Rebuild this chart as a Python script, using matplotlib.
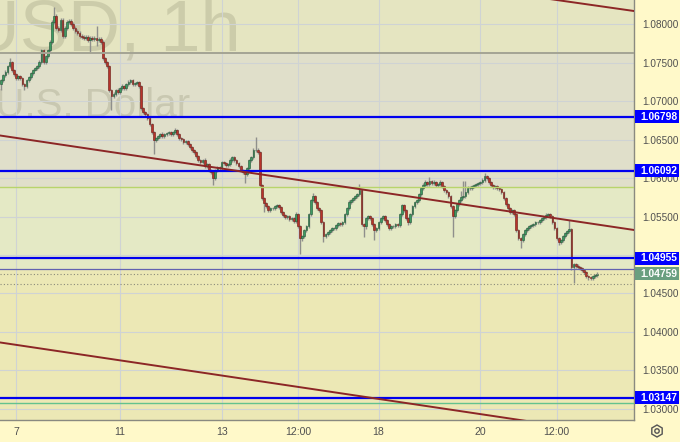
import numpy as np
import matplotlib.pyplot as plt
from matplotlib.patches import Rectangle, RegularPolygon, Circle

plt.rcParams['font.family'] = ['Liberation Sans', 'DejaVu Sans']

# EURUSD 1h, bar index 0 = 7th 00:00
first_open = 1.07220
closes = [
    1.07272, 1.07337, 1.07376, 1.07454, 1.07506, 1.07402, 1.07350, 1.07298, 1.07324, 1.07298,
    1.07220, 1.07194, 1.07272, 1.07311, 1.07363, 1.07402, 1.07428, 1.07454, 1.07506, 1.07662,
    1.07506, 1.07584, 1.07662, 1.07766, 1.08026, 1.08104, 1.07948, 1.07922, 1.08052, 1.07844,
    1.07948, 1.08026, 1.08039, 1.08000, 1.07948, 1.07909, 1.07883, 1.07844, 1.07831, 1.07818,
    1.07831, 1.07792, 1.07818, 1.07805, 1.07818, 1.07792, 1.07805, 1.07766, 1.07558, 1.07506,
    1.07454, 1.07142, 1.07064, 1.07090, 1.07142, 1.07116, 1.07168, 1.07194, 1.07168, 1.07220,
    1.07246, 1.07272, 1.07220, 1.07233, 1.07246, 1.07194, 1.06908, 1.06856, 1.06830, 1.06778,
    1.06700, 1.06596, 1.06492, 1.06518, 1.06544, 1.06570, 1.06544, 1.06570, 1.06583, 1.06596,
    1.06570, 1.06596, 1.06622, 1.06570, 1.06518, 1.06505, 1.06466, 1.06479, 1.06440, 1.06401,
    1.06362, 1.06336, 1.06284, 1.06232, 1.06206, 1.06232, 1.06154, 1.06180, 1.06102, 1.06076,
    1.05998, 1.06102, 1.06141, 1.06128, 1.06206, 1.06193, 1.06167, 1.06180, 1.06232, 1.06271,
    1.06232, 1.06193, 1.06154, 1.06102, 1.06076, 1.06050, 1.06128, 1.06232, 1.06271, 1.06362,
    1.06362, 1.06336, 1.05907, 1.05738, 1.05673, 1.05634, 1.05582, 1.05608, 1.05608, 1.05634,
    1.05647, 1.05621, 1.05556, 1.05517, 1.05491, 1.05504, 1.05465, 1.05478, 1.05439, 1.05530,
    1.05374, 1.05218, 1.05244, 1.05322, 1.05374, 1.05530, 1.05712, 1.05764, 1.05686, 1.05608,
    1.05582, 1.05426, 1.05244, 1.05270, 1.05296, 1.05322, 1.05348, 1.05348, 1.05387, 1.05413,
    1.05400, 1.05426, 1.05530, 1.05608, 1.05686, 1.05712, 1.05738, 1.05764, 1.05790, 1.05842,
    1.05400, 1.05374, 1.05478, 1.05504, 1.05478, 1.05400, 1.05322, 1.05348, 1.05426, 1.05478,
    1.05504, 1.05452, 1.05400, 1.05348, 1.05374, 1.05374, 1.05400, 1.05387, 1.05530, 1.05647,
    1.05582, 1.05478, 1.05426, 1.05530, 1.05634, 1.05686, 1.05712, 1.05790, 1.05868, 1.05907,
    1.05946, 1.05920, 1.05959, 1.05933, 1.05946, 1.05907, 1.05920, 1.05946, 1.05894, 1.05842,
    1.05816, 1.05764, 1.05634, 1.05504, 1.05582, 1.05660, 1.05712, 1.05751, 1.05764, 1.05816,
    1.05868, 1.05868, 1.05894, 1.05907, 1.05920, 1.05933, 1.05946, 1.05972, 1.06024, 1.05998,
    1.05946, 1.05907, 1.05881, 1.05894, 1.05868, 1.05855, 1.05816, 1.05738, 1.05660, 1.05608,
    1.05556, 1.05582, 1.05530, 1.05322, 1.05218, 1.05192, 1.05270, 1.05322, 1.05348, 1.05374,
    1.05387, 1.05400, 1.05426, 1.05426, 1.05452, 1.05478, 1.05491, 1.05517, 1.05530, 1.05504,
    1.05426, 1.05348, 1.05218, 1.05166, 1.05192, 1.05244, 1.05283, 1.05309, 1.05335, 1.04841,
    1.04880, 1.04854, 1.04841, 1.04828, 1.04802, 1.04776, 1.04724, 1.04711, 1.04698, 1.04724,
    1.04737, 1.04759,
]
# wick lengths above / below the body, in pips
wick_up = [
    2, 2, 3, 2, 5, 2, 2, 2, 2, 1,  2, 1, 2, 2, 2, 1, 2, 2, 3, 2,
    2, 2, 2, 2, 3, 12, 2, 2, 3, 2,  2, 2, 3, 2, 2, 2, 2, 2, 2, 2,
    2, 3, 2, 3, 2, 16, 2, 3, 2, 2,  2, 2, 2, 3, 2, 3, 2, 3, 2, 2,
    3, 2, 2, 2, 2, 2, 2, 2, 2, 2,  2, 2, 2, 2, 2, 2, 3, 2, 2, 2,
    2, 2, 3, 2, 2, 2, 2, 2, 2, 2,  2, 2, 2, 2, 2, 2, 3, 2, 2, 2,
    2, 2, 2, 2, 2, 2, 2, 2, 3, 2,  2, 2, 2, 2, 2, 2, 2, 2, 2, 3,
    17, 3, 2, 2, 2, 2, 2, 2, 2, 2,  2, 2, 2, 2, 2, 2, 2, 2, 2, 3,
    2, 2, 2, 2, 2, 2, 2, 4, 2, 2,  2, 2, 2, 2, 2, 2, 2, 2, 2, 2,
    2, 2, 2, 2, 3, 2, 2, 2, 2, 8,  2, 2, 2, 2, 2, 2, 2, 2, 2, 2,
    2, 2, 2, 2, 2, 2, 2, 2, 2, 2,  2, 2, 2, 2, 2, 2, 2, 2, 2, 3,
    3, 2, 5, 2, 3, 2, 2, 3, 2, 2,  2, 2, 2, 2, 2, 2, 2, 8, 20, 15,
    3, 3, 2, 2, 2, 2, 2, 3, 4, 2,  2, 2, 2, 2, 2, 2, 2, 2, 2, 2,
    2, 2, 2, 2, 2, 2, 2, 2, 2, 2,  2, 2, 2, 2, 2, 2, 2, 3, 2, 2,
    2, 2, 2, 2, 2, 2, 2, 2, 12, 2,  2, 2, 3, 2, 2, 2, 2, 2, 2, 2,
    2, 2,
]
wick_dn = [
    8, 2, 2, 2, 2, 2, 2, 3, 2, 2,  3, 5, 2, 2, 2, 2, 1, 2, 2, 2,
    2, 2, 2, 2, 2, 2, 3, 2, 2, 3,  2, 2, 2, 2, 2, 2, 2, 2, 2, 3,
    3, 3, 17, 3, 2, 8, 2, 2, 3, 2,  2, 3, 18, 2, 2, 2, 2, 2, 2, 2,
    2, 2, 2, 2, 2, 2, 2, 2, 2, 2,  2, 3, 18, 2, 2, 2, 2, 2, 2, 2,
    2, 2, 2, 2, 2, 2, 2, 2, 2, 2,  2, 2, 2, 3, 2, 2, 2, 3, 2, 2,
    9, 2, 2, 2, 2, 2, 2, 2, 2, 2,  2, 2, 2, 2, 3, 12, 2, 2, 2, 2,
    2, 2, 3, 3, 12, 2, 2, 2, 2, 2,  2, 2, 2, 2, 2, 2, 2, 2, 2, 2,
    2, 20, 3, 2, 2, 2, 2, 2, 2, 2,  2, 2, 8, 2, 2, 2, 2, 2, 2, 2,
    2, 2, 2, 2, 2, 2, 2, 2, 2, 2,  2, 14, 4, 2, 2, 2, 13, 2, 2, 2,
    2, 2, 2, 2, 2, 2, 2, 2, 2, 2,  2, 2, 3, 2, 2, 2, 2, 2, 2, 2,
    2, 2, 2, 2, 2, 2, 2, 2, 2, 2,  2, 2, 2, 27, 2, 2, 2, 2, 2, 2,
    2, 2, 2, 2, 2, 2, 2, 2, 2, 2,  2, 2, 2, 2, 2, 2, 2, 2, 2, 2,
    2, 2, 2, 2, 2, 10, 2, 2, 2, 2,  2, 2, 2, 2, 2, 2, 2, 2, 2, 2,
    2, 2, 2, 3, 2, 2, 2, 2, 2, 3,  21, 2, 2, 2, 2, 2, 2, 3, 2, 2,
    2, 2,
]
first_bar = -7

tick_pos = [0, 49, 97, 133, 171, 219, 255]
tick_labels = ['7', '11', '13', '12:00', '18', '20', '12:00']
price_ticks = [1.030, 1.035, 1.040, 1.045, 1.055, 1.060, 1.065, 1.070, 1.075, 1.080]

blue_levels = [1.06798, 1.06092, 1.04955, 1.03147]
last_price = 1.04759
day_low = 1.04617
gray_level = 1.07623
lime_level = 1.05883
purple_level = 1.04820
green_level = 1.03078
trend_lines = [
    ((-7.5, 1.06552), (291.5, 1.05325)),
    ((-7.5, 1.03864), (291.5, 1.02636)),
    ((200.0, 1.08528), (291.5, 1.08169)),
]

# ---- figure
fig = plt.figure(figsize=(6.8, 4.42), dpi=100, facecolor='#fff9c9')
ax = fig.add_axes([0, 22 / 442, 634 / 680, 420 / 442])
ax.set_facecolor('#e5e5c1')
ax.set_xlim(-7.55, 291.5)
ax.set_ylim(1.02857, 1.08312)

# background zones
ax.axhspan(lime_level, gray_level, color='#e0dfca', zorder=0.5, lw=0)
ax.axhspan(purple_level, lime_level, color='#e4e9c5', zorder=0.5, lw=0)
ax.axhspan(1.0, purple_level, color='#ece8b5', zorder=0.5, lw=0)

# watermark
ax.text(241 / 634, 370 / 420, 'EURUSD, 1h', transform=ax.transAxes, ha='right',
        va='baseline', fontsize=52, color='#8c8c6e', alpha=0.27, zorder=1)
ax.text(190 / 634, 303 / 420, 'Euro / U.S. Dollar', transform=ax.transAxes, ha='right',
        va='baseline', fontsize=29, color='#8c8c6e', alpha=0.27, zorder=1)

# candles
c = np.array(closes)
o = np.concatenate([[first_open], c[:-1]])
x = np.arange(len(c)) + first_bar
hi = np.maximum(o, c) + np.array(wick_up) * 1e-4
lo = np.minimum(o, c) - np.array(wick_dn) * 1e-4
up = c >= o
ax.vlines(x, lo, hi, color='#8f8f8c', lw=1.0, zorder=3)
body = np.maximum(np.abs(c - o), 0.00006)
ax.bar(x, body, bottom=np.minimum(o, c), width=0.8,
       color=np.where(up, '#3d9a62', '#b8332b'),
       edgecolor=np.where(up, '#1f5535', '#6b1a14'), lw=0.4, zorder=4)

# drawings
ax.axhline(gray_level, color='#a4a494', lw=1.4, zorder=5)
ax.axhline(lime_level, color='#b8d46c', lw=1.0, zorder=5)
ax.axhline(purple_level, color='#6262b0', lw=0.9, zorder=5)
ax.axhline(green_level, color='#63c28e', lw=1.0, zorder=5)
ax.axhline(last_price, color='#8a8a7a', lw=0.8, ls=(0, (1, 2)), zorder=5)
ax.axhline(day_low, color='#8a8a7a', lw=0.8, ls=(0, (1, 2)), zorder=5)
for lv in blue_levels:
    ax.axhline(lv, color='#0000ee', lw=1.6, zorder=5)
for (x0, y0), (x1, y1) in trend_lines:
    ax.plot([x0, x1], [y0, y1], color='#8c2626', lw=1.4, zorder=5)

# axes styling
ax.yaxis.tick_right()
ax.set_yticks(price_ticks)
ax.set_yticklabels([f'{p:.5f}' for p in price_ticks])
ax.set_yticks([1.05], minor=True)
ax.set_xticks(tick_pos)
ax.set_xticklabels(tick_labels)
ax.grid(True, which='both', color='#cfd3d4', lw=0.8)
ax.tick_params(axis='y', which='both', length=0, pad=6, labelsize=7.2, labelcolor='#505050')
ax.tick_params(axis='x', length=0, pad=5, labelsize=7.6, labelcolor='#505050')
for s in ['top', 'left']:
    ax.spines[s].set_visible(False)
for s in ['right', 'bottom']:
    ax.spines[s].set_color('#8a8a80')
    ax.spines[s].set_linewidth(1.0)

# price labels on the scale
tr = ax.get_yaxis_transform()
box_h = 13 / 7700
box_w = 44 / 634
for lv, fc in [(v, '#0000ff') for v in blue_levels] + [(last_price, '#6a9f80')]:
    ax.add_patch(Rectangle((1.0015, lv - box_h / 2), box_w, box_h, transform=tr,
                           facecolor=fc, edgecolor='none', clip_on=False, zorder=6))
    ax.text(1.0095, lv, f'{lv:.5f}', transform=tr, color='white', fontsize=7.4,
            fontweight='bold', va='center', ha='left', clip_on=False, zorder=7)

# settings icon
fig.add_artist(RegularPolygon((6.57, 0.11), 6, radius=0.06, transform=fig.dpi_scale_trans,
                              facecolor='none', edgecolor='#555555', lw=1.0))
fig.add_artist(Circle((6.57, 0.11), 0.022, transform=fig.dpi_scale_trans,
                      facecolor='none', edgecolor='#555555', lw=1.0))

fig.savefig('out.png', dpi=100, facecolor=fig.get_facecolor())
